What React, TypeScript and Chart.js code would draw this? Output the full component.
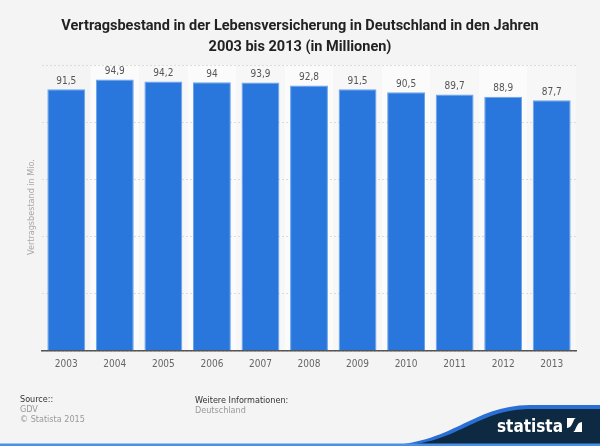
import React, { useEffect, useRef } from "react";
import { Chart, registerables } from "chart.js";

Chart.register(...registerables);

const years = ["2003", "2004", "2005", "2006", "2007", "2008", "2009", "2010", "2011", "2012", "2013"];
const contracts = [91.5, 94.9, 94.2, 94, 93.9, 92.8, 91.5, 90.5, 89.7, 88.9, 87.7];
const titleLines = [
  "Vertragsbestand in der Lebensversicherung in Deutschland in den Jahren",
  "2003 bis 2013 (in Millionen)",
];
const yAxisTitle = "Vertragsbestand in Mio.";

const NARROW = "'Liberation Sans Narrow', 'DejaVu Sans Condensed', Roboto, sans-serif";
const SANS = "Roboto, 'Open Sans', sans-serif";

const fmt = (v: number) => String(v).replace(".", ",");

const decor = {
  id: "decor",
  beforeDraw(chart: any) {
    const { ctx, chartArea, scales } = chart;
    ctx.save();
    ctx.fillStyle = "#f4f4f4";
    ctx.fillRect(0, 0, chart.width, chart.height);
    const xs = scales.x;
    const cw = (chartArea.right - chartArea.left) / years.length;
    years.forEach((_, i) => {
      const c = xs.getPixelForValue(i);
      ctx.fillStyle = i % 2 === 1 ? "#fbfbfb" : i === 0 ? "#f4f4f4" : "#f7f7f7";
      ctx.fillRect(c - cw / 2, chartArea.top, cw, chartArea.bottom - chartArea.top);
    });
    // title
    ctx.fillStyle = "#222";
    ctx.font = "bold 14.5px " + SANS;
    ctx.textAlign = "center";
    ctx.textBaseline = "middle";
    ctx.fillText(titleLines[0], 300, 26);
    ctx.fillText(titleLines[1], 300, 47);
    // y axis title
    ctx.save();
    ctx.translate(32, 207);
    ctx.rotate(-Math.PI / 2);
    ctx.fillStyle = "#a8a8a8";
    ctx.font = "9px " + NARROW;
    ctx.fillText(yAxisTitle, 0, 0);
    ctx.restore();
    // footer
    ctx.textAlign = "left";
    ctx.textBaseline = "alphabetic";
    ctx.font = "9px " + NARROW;
    ctx.fillStyle = "#333";
    ctx.fillText("Source::", 20, 402);
    ctx.fillText("Weitere Informationen:", 195, 403);
    ctx.fillStyle = "#999";
    ctx.fillText("GDV", 20, 412);
    ctx.fillText("© Statista 2015", 20, 422);
    ctx.fillText("Deutschland", 195, 413);
    // logo
    ctx.fillStyle = "#2a6fd6";
    ctx.beginPath();
    ctx.moveTo(380, 446);
    ctx.bezierCurveTo(455, 444, 470, 406, 530, 405);
    ctx.lineTo(600, 405);
    ctx.lineTo(600, 446);
    ctx.closePath();
    ctx.fill();
    ctx.fillStyle = "#0d2a42";
    ctx.beginPath();
    ctx.moveTo(395, 446);
    ctx.bezierCurveTo(460, 444, 475, 409, 532, 409);
    ctx.lineTo(600, 409);
    ctx.lineTo(600, 446);
    ctx.closePath();
    ctx.fill();
    ctx.fillStyle = "#4a8fe8";
    ctx.fillRect(0, 443.5, 600, 2.5);
    ctx.fillStyle = "#ffffff";
    ctx.font = "bold 17px " + NARROW;
    ctx.textAlign = "right";
    ctx.fillText("statista", 563, 432);
    ctx.fillRect(567, 418, 15, 14);
    ctx.fillStyle = "#0d2a42";
    ctx.beginPath();
    ctx.moveTo(567, 432);
    ctx.lineTo(573, 432);
    ctx.bezierCurveTo(576, 432, 576, 422, 582, 422);
    ctx.lineTo(582, 418);
    ctx.lineTo(576, 418);
    ctx.bezierCurveTo(573, 418, 573, 428, 567, 428);
    ctx.closePath();
    ctx.fill();
    ctx.restore();
  },
  afterDatasetsDraw(chart: any) {
    const { ctx } = chart;
    const meta = chart.getDatasetMeta(0);
    ctx.save();
    ctx.fillStyle = "#555";
    ctx.font = "10px " + NARROW;
    ctx.textAlign = "center";
    ctx.textBaseline = "bottom";
    meta.data.forEach((bar: any, i: number) => {
      ctx.fillText(fmt(contracts[i]), bar.x, bar.y - 3);
    });
    ctx.restore();
  },
};

export default function App() {
  const ref = useRef<HTMLCanvasElement>(null);
  useEffect(() => {
    const chart = new Chart(ref.current!, {
      type: "bar",
      data: {
        labels: years,
        datasets: [
          {
            data: contracts,
            backgroundColor: "#2976dd",
            borderColor: "#6aa3ea",
            borderWidth: 1,
            borderSkipped: "bottom",
            barPercentage: 0.78,
            categoryPercentage: 1,
          },
        ],
      },
      options: {
        responsive: false,
        animation: false,
        layout: { padding: { left: 42, right: 24, top: 65, bottom: 69 } },
        plugins: { legend: { display: false }, tooltip: { enabled: false }, title: { display: false } },
        scales: {
          x: {
            grid: { display: false, drawTicks: false },
            border: { display: true, color: "#555", width: 1.5, z: 2 },
            ticks: { color: "#666", font: { size: 10, family: NARROW }, padding: 7 },
          },
          y: {
            min: 0,
            max: 100,
            ticks: { display: false, stepSize: 20 },
            grid: { color: "#dcdcdc", drawTicks: false, lineWidth: 1 },
            border: { display: false, dash: [2, 2] },
          },
        },
      },
      plugins: [decor],
    });
    return () => chart.destroy();
  }, []);
  return (
    <div style={{ position: "fixed", left: 0, top: 0, width: 600, height: 446 }}>
      <canvas ref={ref} width={600} height={446} />
    </div>
  );
}
